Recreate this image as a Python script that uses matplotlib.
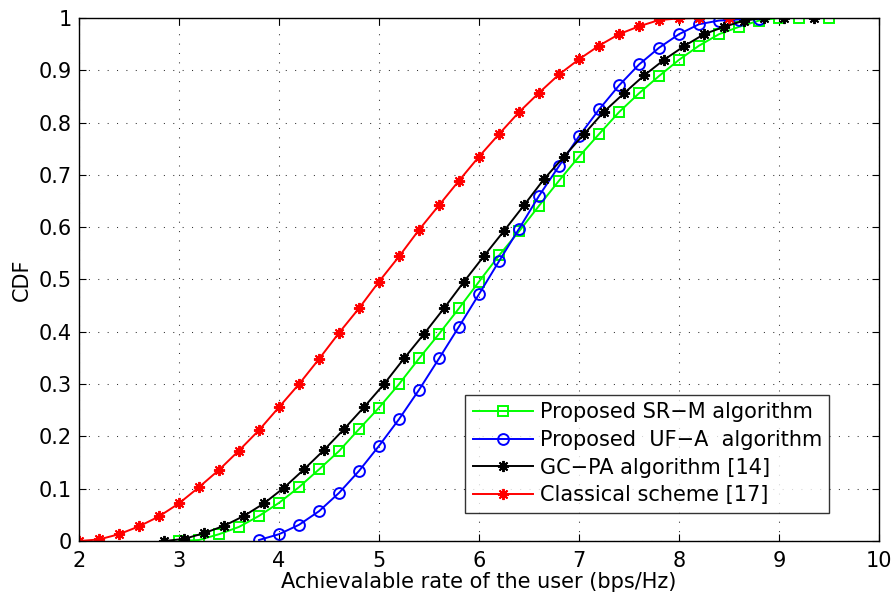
import numpy as np
import matplotlib
matplotlib.use("Agg")
import matplotlib.pyplot as plt

plt.rcParams['font.family'] = ['DejaVu Sans']

# Achievable-rate CDF samples (bps/Hz, CDF)
srm_x = [3.0, 3.2, 3.4, 3.6, 3.8, 4.0, 4.2, 4.4, 4.6, 4.8, 5.0, 5.2, 5.4, 5.6, 5.8,
         6.0, 6.2, 6.4, 6.6, 6.8, 7.0, 7.2, 7.4, 7.6, 7.8, 8.0, 8.2, 8.4, 8.6, 8.8,
         9.0, 9.2, 9.5]
srm_y = [0.0, 0.002, 0.013, 0.027, 0.048, 0.073, 0.103, 0.137, 0.172, 0.214, 0.255,
         0.300, 0.349, 0.396, 0.445, 0.496, 0.546, 0.592, 0.641, 0.689, 0.735, 0.778,
         0.820, 0.856, 0.889, 0.920, 0.947, 0.969, 0.983, 0.995, 1.0, 1.0, 1.0]

ufa_x = [3.8, 4.0, 4.2, 4.4, 4.6, 4.8, 5.0, 5.2, 5.4, 5.6, 5.8, 6.0, 6.2, 6.4, 6.6,
         6.8, 7.0, 7.2, 7.4, 7.6, 7.8, 8.0, 8.2, 8.4, 8.6, 8.8]
ufa_y = [0.002, 0.013, 0.031, 0.057, 0.092, 0.134, 0.182, 0.233, 0.289, 0.349, 0.410,
         0.472, 0.535, 0.597, 0.660, 0.717, 0.774, 0.825, 0.871, 0.911, 0.943, 0.969,
         0.988, 0.995, 0.997, 0.998]

gcpa_x = [2.85, 3.05, 3.25, 3.45, 3.65, 3.85, 4.05, 4.25, 4.45, 4.65, 4.85, 5.05, 5.25,
          5.45, 5.65, 5.85, 6.05, 6.25, 6.45, 6.65, 6.85, 7.05, 7.25, 7.45, 7.65, 7.85,
          8.05, 8.25, 8.45, 8.65, 8.85, 9.05, 9.35]
gcpa_y = [0.0, 0.004, 0.015, 0.029, 0.048, 0.072, 0.102, 0.137, 0.174, 0.214, 0.256,
          0.300, 0.349, 0.396, 0.445, 0.496, 0.545, 0.593, 0.642, 0.692, 0.735, 0.778,
          0.821, 0.856, 0.890, 0.920, 0.946, 0.969, 0.983, 0.995, 1.0, 1.0, 1.0]

cls_x = [2.0, 2.2, 2.4, 2.6, 2.8, 3.0, 3.2, 3.4, 3.6, 3.8, 4.0, 4.2, 4.4, 4.6, 4.8,
         5.0, 5.2, 5.4, 5.6, 5.8, 6.0, 6.2, 6.4, 6.6, 6.8, 7.0, 7.2, 7.4, 7.6, 7.8,
         8.0, 8.2, 8.5]
cls_y = [0.0, 0.003, 0.013, 0.028, 0.047, 0.072, 0.103, 0.136, 0.173, 0.212, 0.256,
         0.300, 0.348, 0.398, 0.445, 0.496, 0.544, 0.595, 0.642, 0.689, 0.735, 0.778,
         0.820, 0.857, 0.892, 0.921, 0.947, 0.969, 0.984, 0.996, 0.999, 1.0, 1.0]

labels = ["Proposed SR\u2212M algorithm",
          "Proposed  UF\u2212A  algorithm",
          "GC\u2212PA algorithm [14]",
          "Classical scheme [17]"]

x_ticks = [2, 3, 4, 5, 6, 7, 8, 9, 10]
y_ticks = [0, 0.1, 0.2, 0.3, 0.4, 0.5, 0.6, 0.7, 0.8, 0.9, 1]
y_tick_labels = ["0", "0.1", "0.2", "0.3", "0.4", "0.5", "0.6", "0.7", "0.8", "0.9", "1"]

FS = 15

fig = plt.figure(figsize=(8.96, 5.98), dpi=100)
ax = fig.add_axes([0.0882, 0.0953, 0.8929, 0.8747])

lw = 1.4
asterisk = (8, 2, 0)
ax.plot(srm_x, srm_y, color=(0, 1, 0), lw=lw, marker='s', ms=6.5,
        mfc='none', mec=(0, 1, 0), mew=1.4, label=labels[0])
ax.plot(ufa_x, ufa_y, color=(0, 0, 1), lw=lw, marker='o', ms=7.8,
        mfc='none', mec=(0, 0, 1), mew=1.4, label=labels[1])
ax.plot(gcpa_x, gcpa_y, color='black', lw=lw, marker=asterisk, ms=8,
        mec='black', mew=1.4, label=labels[2])
ax.plot(cls_x, cls_y, color=(1, 0, 0), lw=lw, marker=asterisk, ms=8,
        mec=(1, 0, 0), mew=1.4, label=labels[3])

ax.set_xlim(2, 10)
ax.set_ylim(0, 1)
ax.set_xticks(x_ticks)
ax.set_yticks(y_ticks)
ax.set_yticklabels(y_tick_labels)
ax.tick_params(direction='in', top=True, right=True, length=5, width=0.8,
               labelsize=FS)
ax.tick_params(axis='x', pad=7)
ax.tick_params(axis='y', pad=5)
for s in ax.spines.values():
    s.set_linewidth(1.0)

ax.grid(True, color='#333333', linestyle=(0, (1, 8)), linewidth=0.75)

ax.set_xlabel("Achievalable rate of the user (bps/Hz)", fontsize=FS, labelpad=1)
ax.set_ylabel("CDF", fontsize=FS, labelpad=5)

leg = ax.legend(loc='lower right', bbox_to_anchor=(0.938, 0.054), borderaxespad=0,
                fontsize=FS, frameon=True, fancybox=False, edgecolor='black',
                handlelength=2.9, handletextpad=0.33, labelspacing=0.37,
                borderpad=0.35)
leg.get_frame().set_linewidth(1.0)

fig.savefig("out.png", dpi=100)
